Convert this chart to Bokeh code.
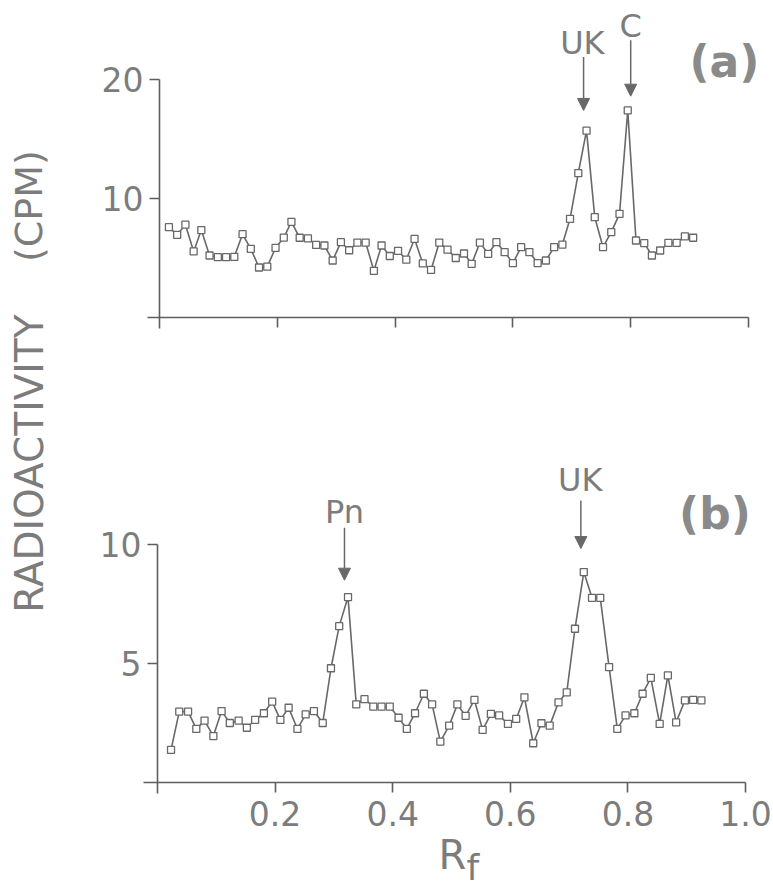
import math

from bokeh.embed import file_html
from bokeh.models import Arrow, FixedTicker, Label, LinearAxis, NormalHead, Range1d
from bokeh.plotting import figure
from bokeh.resources import INLINE

# ---------------------------------------------------------------- data
# (a) radioactivity profile along the strip
top_rf = [0.016, 0.030, 0.044, 0.058, 0.071, 0.085, 0.099, 0.113, 0.127, 0.141,
          0.155, 0.169, 0.183, 0.197, 0.211, 0.224, 0.238, 0.252, 0.266, 0.280,
          0.294, 0.308, 0.322, 0.336, 0.350, 0.364, 0.377, 0.391, 0.405, 0.419,
          0.433, 0.447, 0.461, 0.475, 0.489, 0.503, 0.517, 0.530, 0.544, 0.558,
          0.572, 0.586, 0.600, 0.614, 0.628, 0.642, 0.656, 0.670, 0.684, 0.697,
          0.711, 0.725, 0.739, 0.753, 0.767, 0.781, 0.795, 0.809, 0.823, 0.836,
          0.850, 0.864, 0.878, 0.892, 0.906]
top_cpm = [7.59, 6.95, 7.80, 5.55, 7.35, 5.21, 5.07, 5.07, 5.10, 7.00,
           5.77, 4.20, 4.27, 5.85, 6.72, 8.04, 6.70, 6.65, 6.10, 6.05,
           4.79, 6.33, 5.65, 6.30, 6.30, 3.92, 6.05, 5.17, 5.60, 4.86,
           6.60, 4.54, 4.00, 6.30, 5.70, 5.00, 5.38, 4.51, 6.29, 5.35,
           6.33, 5.49, 4.57, 5.91, 5.49, 4.57, 4.79, 5.91, 6.13, 8.29,
           12.13, 15.70, 8.43, 5.91, 7.17, 8.71, 17.40, 6.47, 6.25, 5.21,
           5.63, 6.27, 6.27, 6.81, 6.70]

# (b) radioactivity profile along the strip
bot_rf = [0.023, 0.037, 0.052, 0.066, 0.080, 0.095, 0.109, 0.123, 0.138, 0.152,
          0.166, 0.181, 0.195, 0.209, 0.223, 0.238, 0.252, 0.266, 0.281, 0.295,
          0.309, 0.324, 0.338, 0.352, 0.367, 0.381, 0.395, 0.410, 0.424, 0.438,
          0.453, 0.467, 0.481, 0.496, 0.510, 0.524, 0.539, 0.553, 0.567, 0.581,
          0.596, 0.610, 0.624, 0.639, 0.653, 0.667, 0.682, 0.696, 0.710, 0.725,
          0.739, 0.753, 0.768, 0.782, 0.796, 0.811, 0.825, 0.839, 0.854, 0.868,
          0.882, 0.897, 0.911, 0.925]
bot_cpm = [1.37, 2.98, 2.98, 2.25, 2.60, 1.95, 3.00, 2.50, 2.60, 2.30,
           2.63, 2.91, 3.40, 2.63, 3.14, 2.25, 2.86, 3.00, 2.50, 4.80,
           6.57, 7.79, 3.28, 3.50, 3.19, 3.19, 3.19, 2.72, 2.25, 2.91,
           3.73, 3.28, 1.72, 2.39, 3.28, 2.80, 3.47, 2.21, 2.88, 2.82,
           2.46, 2.67, 3.58, 1.65, 2.49, 2.39, 3.37, 3.79, 6.46, 8.84,
           7.76, 7.76, 4.85, 2.25, 2.82, 2.91, 3.73, 4.40, 2.46, 4.50,
           2.53, 3.45, 3.47, 3.45]

x_ticks = [0.2, 0.4, 0.6, 0.8, 1.0]
x_tick_labels = ["0.2", "0.4", "0.6", "0.8", "1.0"]
top_y_ticks = [10, 20]
bot_y_ticks = [5, 10]

# ---------------------------------------------------------------- layout
W, H = 773, 888

# where each panel's data origin sits and how many pixels one unit spans
TOP_X0, TOP_XS = 159.0, 589.0
TOP_Y0, TOP_YS = 317.0, 11.9
BOT_X0, BOT_XS = 157.0, 588.0
BOT_Y0, BOT_YS = 782.0, 23.8


def x_span(x0, xs):
    return Range1d(-x0 / xs, (W - x0) / xs)


def y_span(y0, ys):
    return Range1d((y0 - H) / ys, y0 / ys)


LINE = "#686868"
AXIS = "#5e5e5e"
TEXT = "#7c7c7c"
FONT = "DejaVu Sans"

# the frame fills the whole canvas; the axes sit at fixed positions inside it
p = figure(width=W, height=H, output_backend="svg", toolbar_location=None,
           x_axis_location=None, y_axis_location=None,
           x_range=x_span(BOT_X0, BOT_XS), y_range=y_span(BOT_Y0, BOT_YS),
           min_border_left=0, min_border_right=0,
           min_border_top=0, min_border_bottom=0)
p.extra_x_ranges = {"tx": x_span(TOP_X0, TOP_XS)}
p.extra_y_ranges = {"ty": y_span(TOP_Y0, TOP_YS)}
p.outline_line_color = None
p.background_fill_color = "white"
p.border_fill_color = "white"
p.grid.visible = False


def style(ax, ticks, labels=None, show_labels=True):
    ax.ticker = FixedTicker(ticks=ticks)
    ax.axis_line_color = AXIS
    ax.axis_line_width = 1.6
    ax.major_tick_line_color = AXIS
    ax.major_tick_line_width = 1.6
    ax.major_tick_in = 0
    ax.major_tick_out = 10
    ax.minor_tick_in = 0
    ax.minor_tick_out = 0
    ax.major_label_text_font = FONT
    ax.major_label_text_font_size = "33px"
    ax.major_label_text_color = TEXT
    ax.major_label_standoff = 6
    if labels is not None:
        ax.major_label_overrides = dict(zip(ticks, labels))
    if not show_labels:
        ax.major_label_overrides = {t: "" for t in ticks}


# panel (a) axes, crossing at the origin
ay = LinearAxis(x_range_name="tx", y_range_name="ty", fixed_location=0,
                bounds=(-0.9, 20))
style(ay, top_y_ticks)
p.add_layout(ay, "left")
ax_a = LinearAxis(x_range_name="tx", y_range_name="ty", fixed_location=0,
                  bounds=(-0.02, 1.0))
style(ax_a, x_ticks, show_labels=False)
p.add_layout(ax_a, "below")

# panel (b) axes
by = LinearAxis(fixed_location=0, bounds=(-0.46, 10))
style(by, bot_y_ticks)
p.add_layout(by, "left")
ax_b = LinearAxis(fixed_location=0, bounds=(-0.024, 1.0))
style(ax_b, x_ticks, x_tick_labels)
ax_b.major_label_standoff = 8
p.add_layout(ax_b, "below")

# profiles
p.line(top_rf, top_cpm, x_range_name="tx", y_range_name="ty",
       line_color=LINE, line_width=1.6)
p.scatter(top_rf, top_cpm, x_range_name="tx", y_range_name="ty",
          marker="square", size=7, fill_color="white", line_color=LINE,
          line_width=1.3)
p.line(bot_rf, bot_cpm, line_color=LINE, line_width=1.6)
p.scatter(bot_rf, bot_cpm, marker="square", size=7, fill_color="white",
          line_color=LINE, line_width=1.3)


def label(text, x, y, size, top=False, align="center", bold=False,
          angle=0.0, color=TEXT):
    kw = dict(x_range_name="tx", y_range_name="ty") if top else {}
    p.add_layout(Label(x=x, y=y, text=text, text_font=FONT,
                       text_font_size=size, text_color=color,
                       text_align=align, text_baseline="middle",
                       text_font_style="bold" if bold else "normal",
                       angle=angle, **kw))


def arrow(x, y0, y1, top=False):
    kw = dict(x_range_name="tx", y_range_name="ty") if top else {}
    p.add_layout(Arrow(end=NormalHead(size=12, fill_color=LINE, line_color=LINE),
                       x_start=x, y_start=y0, x_end=x, y_end=y1,
                       line_color=LINE, line_width=1.5, **kw))


# peak markers, panel (a)
label("UK", 0.718, 23.07, "32px", top=True)
arrow(0.720, 21.9, 17.4, top=True)
label("C", 0.800, 24.50, "32px", top=True)
arrow(0.800, 23.3, 18.6, top=True)
label("(a)", 0.959, 21.5, "44px", top=True, bold=True, color="#8a8a8a")

# peak markers, panel (b)
label("Pn", 0.318, 11.37, "32px")
arrow(0.318, 10.7, 8.5)
label("UK", 0.719, 12.71, "32px")
arrow(0.720, 11.85, 9.83)
label("(b)", 0.948, 11.32, "44px", bold=True, color="#8a8a8a")

# axis titles
label("R", 0.478, -3.05, "40px", align="left")
label("f", 0.5255, -3.57, "36px", align="left")
label("RADIOACTIVITY", -0.2177, 13.40, "39px", angle=math.pi / 2)
label("(CPM)", -0.2177, 24.22, "38px", angle=math.pi / 2)

open("out.html", "w").write(file_html(p, INLINE))
